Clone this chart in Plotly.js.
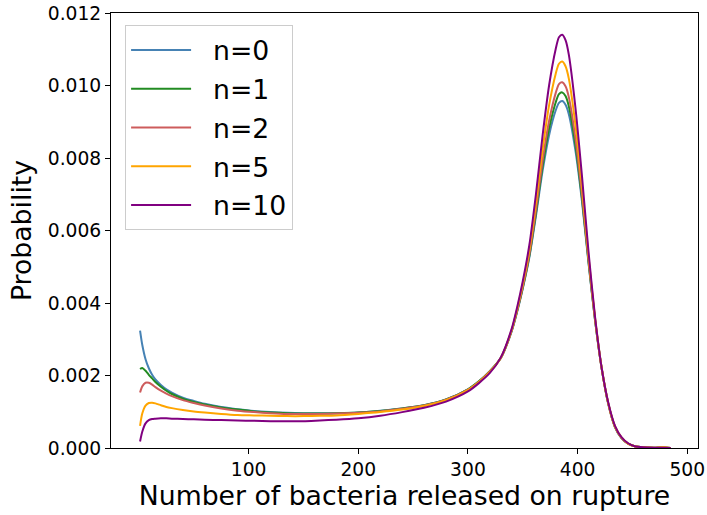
<!DOCTYPE html>
<html>
<head>
<meta charset="utf-8">
<script src="https://cdn.plot.ly/plotly-3.0.1.min.js"></script>
<style>html,body{margin:0;padding:0;background:#fff;}#chart{width:707px;height:515px;}</style>
</head>
<body>
<div id="chart"></div>
<script>
// Number of bacteria released on rupture (x grid shared by all series)
const bacteria = [1,3,6,9,12,15,20,25,30,40,50,60,75,90,105,120,135,150,165,180,200,220,240,260,280,300,310,320,330,340,345,350,356,362,368,374,380,383,386,389,392,398,404,410,416,422,428,434,440,446,452,460,470,478,485];

const seriesNames = ["n=0","n=1","n=2","n=5","n=10"];

const prob_n0 = [0.00324,0.00285,0.00245,0.00220,0.00202,0.00189,0.00174,0.00162,0.00153,0.00139,
0.00130,0.00122,0.00113,0.00107,0.00102,0.00099,0.00097,0.00096,0.00096,0.00096,
0.00098,0.00103,0.00109,0.00118,0.00134,0.00162,0.00184,0.00212,0.00248,0.00323,
0.00377,0.00440,0.00526,0.00640,0.00763,0.00863,0.00931,0.00952,0.00957,0.00947,
0.00921,0.00821,0.00680,0.00509,0.00350,0.00219,0.00121,0.00058,0.00027,0.00012,
0.00005,0.00002,0.00001,0.00002,0.00000];

const prob_n1 = [0.00218,0.00221,0.00213,0.00202,0.00192,0.00182,0.00169,0.00158,0.00149,0.00136,
0.00127,0.00120,0.00112,0.00106,0.00101,0.00098,0.00096,0.00095,0.00095,0.00096,
0.00098,0.00102,0.00109,0.00118,0.00134,0.00162,0.00184,0.00212,0.00248,0.00324,
0.00379,0.00442,0.00530,0.00648,0.00776,0.00881,0.00953,0.00976,0.00981,0.00971,
0.00943,0.00837,0.00689,0.00513,0.00351,0.00219,0.00122,0.00059,0.00028,0.00012,
0.00005,0.00002,0.00001,0.00002,0.00000];

const prob_n2 = [0.00153,0.00170,0.00180,0.00180,0.00175,0.00168,0.00158,0.00150,0.00143,0.00132,
0.00124,0.00117,0.00109,0.00103,0.00099,0.00096,0.00094,0.00094,0.00094,0.00095,
0.00097,0.00101,0.00108,0.00117,0.00133,0.00161,0.00183,0.00211,0.00248,0.00325,
0.00381,0.00445,0.00535,0.00657,0.00791,0.00902,0.00979,0.01004,0.01009,0.00998,
0.00968,0.00855,0.00700,0.00518,0.00353,0.00219,0.00122,0.00059,0.00028,0.00012,
0.00005,0.00002,0.00001,0.00002,0.00000];

const prob_n5 = [0.00061,0.00095,0.00117,0.00124,0.00125,0.00123,0.00118,0.00113,0.00110,0.00105,
0.00101,0.00098,0.00094,0.00091,0.00090,0.00089,0.00088,0.00088,0.00089,0.00090,
0.00094,0.00099,0.00106,0.00116,0.00132,0.00160,0.00182,0.00210,0.00249,0.00327,
0.00385,0.00452,0.00546,0.00676,0.00821,0.00945,0.01032,0.01060,0.01066,0.01053,
0.01019,0.00892,0.00722,0.00527,0.00356,0.00220,0.00123,0.00060,0.00029,0.00012,
0.00005,0.00002,0.00001,0.00002,0.00000];

const prob_n10 = [0.00018,0.00045,0.00068,0.00077,0.00080,0.00081,0.00082,0.00082,0.00081,0.00080,
0.00079,0.00078,0.00077,0.00076,0.00075,0.00074,0.00074,0.00074,0.00076,0.00078,
0.00082,0.00089,0.00099,0.00111,0.00128,0.00156,0.00179,0.00207,0.00250,0.00330,
0.00390,0.00460,0.00560,0.00700,0.00860,0.01000,0.01100,0.01133,0.01140,0.01125,
0.01085,0.00940,0.00750,0.00540,0.00360,0.00220,0.00125,0.00062,0.00030,0.00013,
0.00005,0.00002,0.00001,0.00001,0.00000];

const xTicks = [100,200,300,400,500];
const yTicks = [0,0.002,0.004,0.006,0.008,0.010,0.012];
const yTickText = ["0.000","0.002","0.004","0.006","0.008","0.010","0.012"];

const colors = ["#4682B4","#228B22","#CD5C5C","#FFA500","#800080"];
const allY = [prob_n0, prob_n1, prob_n2, prob_n5, prob_n10];

const FONT = "DejaVu Sans, Liberation Sans, sans-serif";
const PAD = "\u00a0\u00a0"; // gap between legend handle and label

const traces = allY.map((ys, i) => ({
  type: "scatter",
  mode: "lines",
  x: bacteria,
  y: ys,
  name: PAD + seriesNames[i],
  legendgroup: "g" + i,
  line: {color: colors[i], width: 2, shape: "spline", smoothing: 0.7}
}));

const layout = {
  width: 707,
  height: 515,
  margin: {l: 111, r: 9, t: 13, b: 67},
  paper_bgcolor: "#ffffff",
  plot_bgcolor: "#ffffff",
  font: {family: FONT, color: "#000000"},
  showlegend: true,
  legend: {
    x: 0.024, y: 0.972, xanchor: "left", yanchor: "top",
    bgcolor: "rgba(255,255,255,0.8)",
    bordercolor: "#cccccc", borderwidth: 1,
    font: {family: FONT, size: 26.7, color: "#000000"},
    tracegroupgap: 1,
    itemwidth: 60
  },
  xaxis: {
    range: [-25.5, 509.8],
    tickvals: xTicks,
    ticks: "outside", ticklen: 5, tickwidth: 1, tickcolor: "#000000",
    showline: true, mirror: true, linecolor: "#000000", linewidth: 1,
    showgrid: false, zeroline: false,
    tickfont: {family: FONT, size: 18.7, color: "#000000"},
    title: {text: "Number of bacteria released on rupture", font: {family: FONT, size: 26.7, color: "#000000"}, standoff: 6}
  },
  yaxis: {
    range: [0, 0.012],
    tickvals: yTicks,
    ticktext: yTickText,
    ticks: "outside", ticklen: 5, tickwidth: 1, tickcolor: "#000000",
    showline: true, mirror: true, linecolor: "#000000", linewidth: 1,
    showgrid: false, zeroline: false,
    tickfont: {family: FONT, size: 18.7, color: "#000000"},
    title: {text: "Probability", font: {family: FONT, size: 26.7, color: "#000000"}, standoff: 8}
  }
};

Plotly.newPlot("chart", traces, layout, {displayModeBar: false, staticPlot: true});
</script>
</body>
</html>
